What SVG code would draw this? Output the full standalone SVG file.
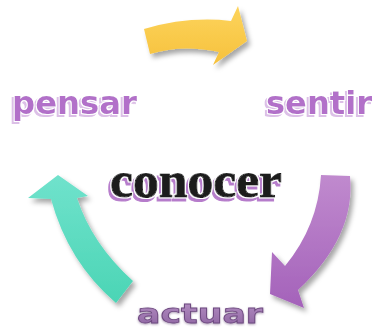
<svg xmlns="http://www.w3.org/2000/svg" width="379" height="330" viewBox="0 0 379 330">
<defs>
<filter id="ds" x="-30%" y="-30%" width="160%" height="160%">
<feDropShadow dx="3" dy="4" stdDeviation="2.5" flood-color="#000" flood-opacity="0.35"/>
</filter>
<filter id="fsans" x="-10%" y="-20%" width="120%" height="140%">
<feMorphology in="SourceAlpha" operator="dilate" radius="1" result="d"/>
<feOffset in="d" dx="-2" dy="2" result="o"/>
<feFlood flood-color="#dcc0e7"/>
<feComposite in2="o" operator="in" result="sh"/>
<feFlood flood-color="#fff"/>
<feComposite in2="d" operator="in" result="wr"/>
<feMerge><feMergeNode in="sh"/><feMergeNode in="wr"/><feMergeNode in="SourceGraphic"/></feMerge>
</filter>
<filter id="fser" x="-10%" y="-20%" width="120%" height="140%">
<feMorphology in="SourceAlpha" operator="dilate" radius="1" result="d"/>
<feOffset in="d" dx="-2" dy="3" result="o"/>
<feFlood flood-color="#b67ccb"/>
<feComposite in2="o" operator="in" result="sh"/>
<feFlood flood-color="#fff"/>
<feComposite in2="d" operator="in" result="wr"/>
<feMerge><feMergeNode in="sh"/><feMergeNode in="wr"/><feMergeNode in="SourceGraphic"/></feMerge>
</filter>
<filter id="fact" x="-10%" y="-20%" width="120%" height="140%">
<feGaussianBlur in="SourceAlpha" stdDeviation="1.2" result="b"/>
<feOffset in="b" dx="0" dy="1" result="ob"/>
<feFlood flood-color="#5a3a6a" flood-opacity="0.5"/>
<feComposite in2="ob" operator="in" result="sh"/>
<feMerge><feMergeNode in="sh"/><feMergeNode in="SourceGraphic"/></feMerge>
</filter>
<linearGradient id="gy" x1="0" y1="0" x2="0" y2="1">
<stop offset="0" stop-color="#fdd45c"/><stop offset="1" stop-color="#f6c13c"/>
</linearGradient>
<linearGradient id="gp" x1="0" y1="0" x2="0" y2="1">
<stop offset="0" stop-color="#c08ace"/><stop offset="1" stop-color="#a462ba"/>
</linearGradient>
<linearGradient id="gt" x1="0" y1="0" x2="0" y2="1">
<stop offset="0" stop-color="#70e2cc"/><stop offset="1" stop-color="#4bd5b5"/>
</linearGradient>
<linearGradient id="ga" x1="0" y1="0" x2="0" y2="1">
<stop offset="0" stop-color="#b893c6"/><stop offset="1" stop-color="#8c62a0"/>
</linearGradient>
</defs>
<style>
.arrow{filter:url(#ds)}
.lbl{font-family:"DejaVu Sans","Verdana",sans-serif;font-weight:bold;font-size:32px;fill:#b270c9;filter:url(#fsans)}
.ser{font-family:"Liberation Serif","Times New Roman",serif;font-weight:bold;font-size:51px;fill:#1e1e1e;stroke:#1e1e1e;stroke-width:1;filter:url(#fser)}
</style>
<g id="connectors">
<path id="arrow-yellow" class="arrow" fill="url(#gy)" d="M144,29 Q188,16 231,21 L238,6 L247,41 L213,65 L219,52 Q182,44 150,54 Z"/>
<path id="arrow-purple" class="arrow" fill="url(#gp)" d="M321,175 L350,176 Q356,236 298,290 L304,308 L270,294 L272,252 L285,266 Q318,226 321,175 Z"/>
<path id="arrow-teal" class="arrow" fill="url(#gt)" d="M116,303 Q68,262 51,199 L28,198 L58,175 L88,196 L77,198 Q92,244 133,281 Z"/>
</g>
<g id="node-pensar">
<text class="lbl" x="12" y="114" textLength="125" lengthAdjust="spacingAndGlyphs">pensar</text>
</g>
<g id="node-sentir">
<text class="lbl" x="266" y="114" textLength="106" lengthAdjust="spacingAndGlyphs">sentir</text>
</g>
<g id="node-conocer">
<text class="ser" x="110" y="197" textLength="172" lengthAdjust="spacingAndGlyphs">conocer</text>
</g>
<g id="node-actuar">
<text x="137" y="323" font-family="DejaVu Sans, Verdana, sans-serif" font-weight="bold" font-size="27" fill="url(#ga)" stroke="#6e4a80" stroke-width="0.8" filter="url(#fact)" textLength="126" lengthAdjust="spacingAndGlyphs">actuar</text>
</g>
</svg>
